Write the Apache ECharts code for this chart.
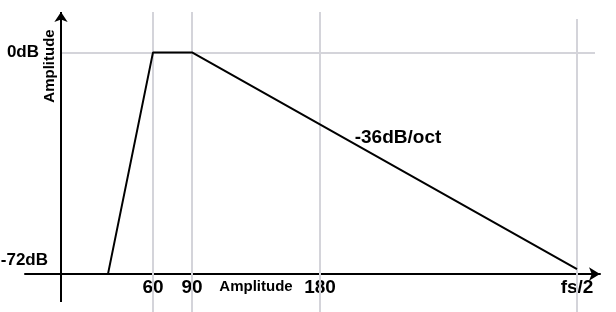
<!DOCTYPE html>
<html>
<head>
<meta charset="utf-8">
<script src="https://cdn.jsdelivr.net/npm/echarts@6/dist/echarts.min.js"></script>
<style>html,body{margin:0;padding:0;background:#fff}#c{width:616px;height:312px}</style>
</head>
<body>
<div id="c"></div>
<script>
// Schematic frequency axis (units = horizontal distance from the amplitude axis)
const xTickValues = [92, 131, 259, 516];
const xTickLabels = ['60', '90', '180', 'fs/2'];
const yTickValues = [-72, 0];
const yTickLabels = ['-72dB', '0dB'];
// Filter response polyline
const responseX = [47, 92, 131, 516];
const responseY = [-76.8, 0, 0, -75.1];
const slopeLabel = '-36dB/oct';
const slopeLabelAt = [337, -29.7];
const axisName = 'Amplitude';

const X_MIN = -36, X_MAX = 539, Y_MIN = -90, Y_MAX = 14;
const GRID_COLOR = '#d4d4da';
const FONT = '"Liberation Sans", Arial, Helvetica, sans-serif';

const chart = echarts.init(document.getElementById('c'), null, {renderer: 'canvas'});

const gridLines = xTickValues.map(function (v, i) {
  const top = (i === xTickValues.length - 1) ? 11.6 : Y_MAX;
  return [{coord: [v, Y_MIN]}, {coord: [v, top]}];
});
gridLines.push([{coord: [0, 0]}, {coord: [534, 0]}]);

const option = {
  animation: false,
  backgroundColor: '#ffffff',
  grid: {left: 25, right: 16, top: 12, bottom: 0, outerBoundsMode: 'none', containLabel: false},
  xAxis: {
    type: 'value', min: X_MIN, max: X_MAX,
    offset: -38,
    name: axisName, nameLocation: 'middle', nameGap: 5, nameMoveOverlap: false,
    nameTextStyle: {fontFamily: FONT, fontWeight: 'bold', fontSize: 15, color: '#000', padding: [0, 113, 0, 0], verticalAlign: 'top'},
    axisLine: {show: true, onZero: false, symbol: ['none', 'arrow'], symbolSize: [10, 11], lineStyle: {color: '#000', width: 2}},
    axisTick: {show: false},
    splitLine: {show: false},
    axisLabel: {
      customValues: xTickValues, margin: 4,
      fontFamily: FONT, fontWeight: 'bold', fontSize: 19, color: '#000',
      formatter: function (v) { const i = xTickValues.indexOf(v); return i >= 0 ? xTickLabels[i] : ''; }
    }
  },
  yAxis: {
    type: 'value', min: Y_MIN, max: Y_MAX,
    position: 'left', offset: X_MIN,
    name: axisName, nameLocation: 'middle', nameRotate: 90, nameGap: 4, nameMoveOverlap: false,
    nameTextStyle: {fontFamily: FONT, fontWeight: 'bold', fontSize: 15, color: '#000', padding: [0, 0, 0, 192]},
    axisLine: {show: false, onZero: false},
    axisTick: {show: false},
    splitLine: {show: false},
    axisLabel: {
      customValues: yTickValues, margin: 13,
      fontFamily: FONT, fontWeight: 'bold', fontSize: 17, color: '#000',
      formatter: function (v) {
        const i = yTickValues.indexOf(v);
        if (i < 0) return '';
        return v === 0 ? '{a|' + yTickLabels[i] + '}' : yTickLabels[i];
      },
      rich: {a: {fontFamily: FONT, fontWeight: 'bold', fontSize: 17, color: '#000', padding: [0, 9, 0, 0]}}
    }
  },
  series: [
    {
      type: 'line', data: [], silent: true, z: 1,
      markLine: {
        z: 1,
        silent: true, symbol: ['none', 'none'], animation: false,
        label: {show: false},
        lineStyle: {color: GRID_COLOR, width: 2, type: 'solid'},
        emphasis: {disabled: true},
        data: gridLines
      }
    },
    {
      type: 'line', data: [], silent: true, z: 3,
      markLine: {
        z: 3,
        silent: true, symbol: ['none', 'arrow'], symbolSize: 10, animation: false,
        label: {show: false},
        lineStyle: {color: '#000', width: 2, type: 'solid'},
        itemStyle: {color: '#000'},
        emphasis: {disabled: true},
        data: [[{coord: [0, -86.5]}, {coord: [0, Y_MAX]}]]
      }
    },
    {
      type: 'line', z: 10, silent: true,
      data: responseX.map(function (x, i) { return [x, responseY[i]]; }),
      showSymbol: false, symbol: 'none',
      lineStyle: {color: '#000', width: 2},
      markPoint: {
        z: 10,
        silent: true, symbol: 'circle', symbolSize: 0, animation: false,
        itemStyle: {color: 'transparent'},
        label: {show: true, position: 'inside', formatter: slopeLabel, fontFamily: FONT, fontWeight: 'bold', fontSize: 19, color: '#000'},
        data: [{coord: slopeLabelAt}]
      }
    }
  ]
};
chart.setOption(option);
</script>
</body>
</html>
